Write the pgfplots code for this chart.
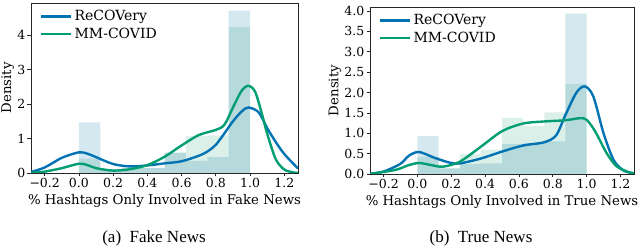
\documentclass[border=0pt]{standalone}
\usepackage{fontspec}
\setmainfont{DejaVu Serif}
\newfontfamily\capfont{Liberation Serif}
\usepackage{pgfplots}
\pgfplotsset{compat=1.18}
\definecolor{cblue}{HTML}{0173B2}
\definecolor{cgreen}{HTML}{029E73}
\definecolor{hblue}{HTML}{D4E8F0}
\definecolor{hgreen}{HTML}{DCF0EA}
\definecolor{frame}{HTML}{262626}
\pgfplotsset{
  kdestyle/.style={
    scale only axis,
    xmin=-0.28, xmax=1.28, ymin=0,
    axis line style={line width=0.8bp, frame},
    tick align=outside, xtick pos=bottom, ytick pos=left,
    major tick length=3.5bp,
    every tick/.style={line width=0.8bp, frame},
    xtick={-0.2,0,0.2,0.4,0.6,0.8,1.0,1.2},
    xticklabels={−0.2,0.0,0.2,0.4,0.6,0.8,1.0,1.2},
    /pgf/number format/assume math mode=true,
    tick label style={font=\fontsize{12.5bp}{14bp}\selectfont},
    xticklabel style={inner sep=1.5bp},
    yticklabel style={inner sep=2bp},
    label style={font=\fontsize{13.3bp}{15bp}\selectfont},
    xlabel style={inner sep=0bp, yshift=-5bp},
    ylabel style={inner sep=0bp, yshift=1bp},
    legend style={at={(0.03,0.975)}, anchor=north west, draw=none, fill=none,
      font=\fontsize{14bp}{16bp}\selectfont, row sep=2bp, inner sep=1bp},
    legend cell align=left,
    legend image code/.code={\draw[##1] (0bp,0bp) -- (30bp,0bp);},
  },
  histb/.style={ybar, bar width=0.125, bar shift=0pt, fill=hblue, draw=none, forget plot, blend mode=multiply},
  histg/.style={ybar, bar width=0.125, bar shift=0pt, fill=hgreen, draw=none, forget plot, blend mode=multiply},
}
\begin{document}
\begin{tikzpicture}
\useasboundingbox (0,0) rectangle (640bp,247bp);
% ---------------- (a) Fake News
\begin{axis}[kdestyle, at={(31bp,74bp)}, anchor=south west,
  width=267bp, height=170bp, ymax=4.93,
  ytick={0,1,2,3,4},
  xlabel={\% Hashtags Only Involved in Fake News}, ylabel={Density}]
\addplot[histb] coordinates {(0.0625,1.47) (0.1875,0.10) (0.3125,0.14) (0.4375,0.14) (0.5625,0.59) (0.6875,0.35) (0.8125,0.46) (0.9375,4.71)};
\addplot[histg] coordinates {(0.0625,0.42) (0.1875,0.12) (0.3125,0.16) (0.4375,0.14) (0.5625,0.59) (0.6875,1.07) (0.8125,1.09) (0.9375,4.23)};
\addplot[cblue, line width=2.4bp, smooth] coordinates {(-0.28,0.03) (-0.2,0.16) (-0.1,0.44) (0,0.6) (0.05,0.56) (0.1,0.46) (0.2,0.26) (0.3,0.19) (0.4,0.22) (0.5,0.28) (0.6,0.34) (0.7,0.5) (0.75,0.62) (0.8,0.82) (0.85,1.15) (0.9,1.5) (0.95,1.78) (0.99,1.9) (1.05,1.76) (1.1,1.3) (1.15,0.9) (1.2,0.55) (1.28,0.13)};
\addlegendentry{ReCOVery}
\addplot[cgreen, line width=2.4bp, smooth] coordinates {(-0.28,0.0) (-0.2,0.04) (-0.1,0.14) (0,0.27) (0.05,0.23) (0.1,0.14) (0.2,0.07) (0.3,0.11) (0.4,0.23) (0.5,0.47) (0.6,0.8) (0.7,1.1) (0.8,1.25) (0.85,1.4) (0.9,1.9) (0.95,2.38) (0.99,2.53) (1.03,2.35) (1.07,1.7) (1.1,1.14) (1.15,0.4) (1.2,0.1) (1.25,0.02) (1.28,0.0)};
\addlegendentry{MM-COVID}
\end{axis}
% ---------------- (b) True News
\begin{axis}[kdestyle, at={(370bp,73bp)}, anchor=south west,
  width=264bp, height=167bp, ymax=4.1,
  ytick={0,0.5,1,1.5,2,2.5,3,3.5,4},
  yticklabel style={/pgf/number format/fixed, /pgf/number format/fixed zerofill, /pgf/number format/precision=1},
  xlabel={\% Hashtags Only Involved in True News}, ylabel={Density}]
\addplot[histb] coordinates {(0.0625,0.93) (0.1875,0.14) (0.3125,0.24) (0.4375,0.26) (0.5625,0.74) (0.6875,0.75) (0.8125,0.80) (0.9375,3.94)};
\addplot[histg] coordinates {(0.0625,0.42) (0.1875,0.14) (0.3125,0.49) (0.4375,0.60) (0.5625,1.38) (0.6875,1.18) (0.8125,1.51) (0.9375,2.21)};
\addplot[cblue, line width=2.4bp, smooth] coordinates {(-0.28,0.01) (-0.2,0.06) (-0.1,0.25) (-0.05,0.45) (0.01,0.54) (0.1,0.4) (0.19,0.28) (0.25,0.26) (0.375,0.38) (0.5,0.55) (0.625,0.7) (0.75,0.78) (0.82,0.95) (0.875,1.45) (0.94,2.0) (0.99,2.15) (1.04,1.9) (1.1,1.0) (1.16,0.34) (1.22,0.08) (1.28,0.02)};
\addlegendentry{ReCOVery}
\addplot[cgreen, line width=2.4bp, smooth] coordinates {(-0.28,0.0) (-0.13,0.1) (-0.05,0.22) (0.01,0.27) (0.08,0.22) (0.15,0.18) (0.25,0.3) (0.375,0.67) (0.5,1.05) (0.625,1.24) (0.75,1.29) (0.875,1.32) (0.96,1.37) (1.0,1.33) (1.05,1.05) (1.12,0.5) (1.18,0.18) (1.26,0.03) (1.28,0.02)};
\addlegendentry{MM-COVID}
\end{axis}
\node[font=\capfont\fontsize{17bp}{19bp}\selectfont] at (154bp,9bp) {(a)\enspace Fake News};
\node[font=\capfont\fontsize{17bp}{19bp}\selectfont] at (481bp,9bp) {(b)\enspace True News};
\end{tikzpicture}
\end{document}
